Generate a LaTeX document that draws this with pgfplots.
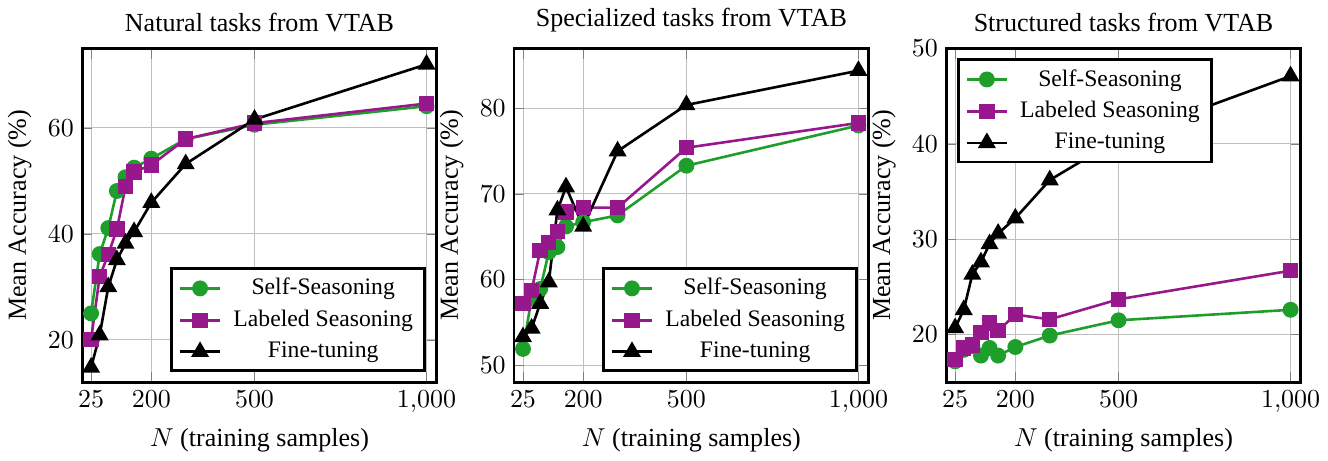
\documentclass[border=0pt]{standalone}
\usepackage{fontspec}
\setmainfont{Liberation Serif}
\usepackage{pgfplots}
\pgfplotsset{compat=1.18}

\definecolor{ssgreen}{RGB}{30,158,42}
\definecolor{lspurple}{RGB}{150,24,140}

\pgfplotsset{
  vtab/.style={
    scale only axis,
    width=149.8pt, height=141pt,
    xmin=-1, xmax=1030,
    xtick={25,200,500,1000},
    grid=major,
    axis line style={line width=1.2pt},
    xlabel={$N$ (training samples)},
    ylabel={Mean Accuracy (\%)},
    title style={font=\fontsize{11}{13}\selectfont, yshift=-2.5pt},
    label style={font=\fontsize{11}{13}\selectfont},
    tick label style={font=\fontsize{10.5}{12}\selectfont},
    legend cell align={center},
    legend style={draw=black, line width=1.2pt, row sep=1pt,
      font=\fontsize{10}{12}\selectfont,
      /tikz/every odd column/.append style={column sep=3pt}},
  },
  ss/.style={color=ssgreen, line width=1.1pt, mark=*, mark size=2.8pt},
  ls/.style={color=lspurple, line width=1.1pt, mark=square*, mark size=2.7pt},
  ft/.style={color=black, line width=1.1pt, mark=triangle*, mark size=3.3pt},
}

\begin{document}
\begin{tikzpicture}

% natural
\begin{axis}[vtab, at={(0pt,0pt)},
  title={Natural tasks from VTAB},
  ymin=12, ymax=75, ytick={20,40,60},
  legend pos=south east]
\addplot[ss] coordinates {
(25,25.0) (50,36.2) (75,41.1) (100,48.1) (125,50.7) (150,52.5)
(200,54.2) (300,57.9) (500,60.6) (1000,64.1)};
\addplot[ls] coordinates {
(25,20.1) (50,32.0) (75,36.1) (100,40.9) (125,48.9) (150,51.7)
(200,53.0) (300,57.9) (500,60.9) (1000,64.6)};
\addplot[ft] coordinates {
(25,14.8) (50,20.9) (75,30.0) (100,35.1) (125,38.2) (150,40.4)
(200,45.9) (300,53.2) (500,61.6) (1000,72.0)};
\legend{Self-Seasoning, Labeled Seasoning, Fine-tuning}
\end{axis}

% specialized
\begin{axis}[vtab, at={(182.4pt,0pt)},
  title={Specialized tasks from VTAB},
  ymin=48, ymax=87, ytick={50,60,70,80},
  legend pos=south east]
\addplot[ss] coordinates {
(25,51.9) (50,57.8) (75,58.9) (100,63.2) (125,63.8) (150,66.2)
(200,66.7) (300,67.5) (500,73.3) (1000,78.0)};
\addplot[ls] coordinates {
(25,57.2) (50,58.7) (75,63.4) (100,64.3) (125,65.6) (150,67.9)
(200,68.4) (300,68.4) (500,75.4) (1000,78.3)};
\addplot[ft] coordinates {
(25,53.3) (50,54.3) (75,57.2) (100,59.7) (125,68.1) (150,70.8)
(200,66.2) (300,75.0) (500,80.4) (1000,84.4)};
\legend{Self-Seasoning, Labeled Seasoning, Fine-tuning}
\end{axis}

% structured
\begin{axis}[vtab, at={(364.9pt,0pt)},
  title={Structured tasks from VTAB},
  ymin=15, ymax=50, ytick={20,30,40,50},
  legend pos=north west]
\addplot[ss] coordinates {
(25,17.2) (50,18.4) (75,18.8) (100,17.8) (125,18.6) (150,17.8)
(200,18.7) (300,19.9) (500,21.5) (1000,22.6)};
\addplot[ls] coordinates {
(25,17.4) (50,18.6) (75,18.9) (100,20.2) (125,21.2) (150,20.4)
(200,22.1) (300,21.6) (500,23.7) (1000,26.7)};
\addplot[ft] coordinates {
(25,20.7) (50,22.6) (75,26.3) (100,27.6) (125,29.5) (150,30.6)
(200,32.2) (300,36.2) (500,40.5) (1000,47.1)};
\legend{Self-Seasoning, Labeled Seasoning, Fine-tuning}
\end{axis}

\end{tikzpicture}
\end{document}
